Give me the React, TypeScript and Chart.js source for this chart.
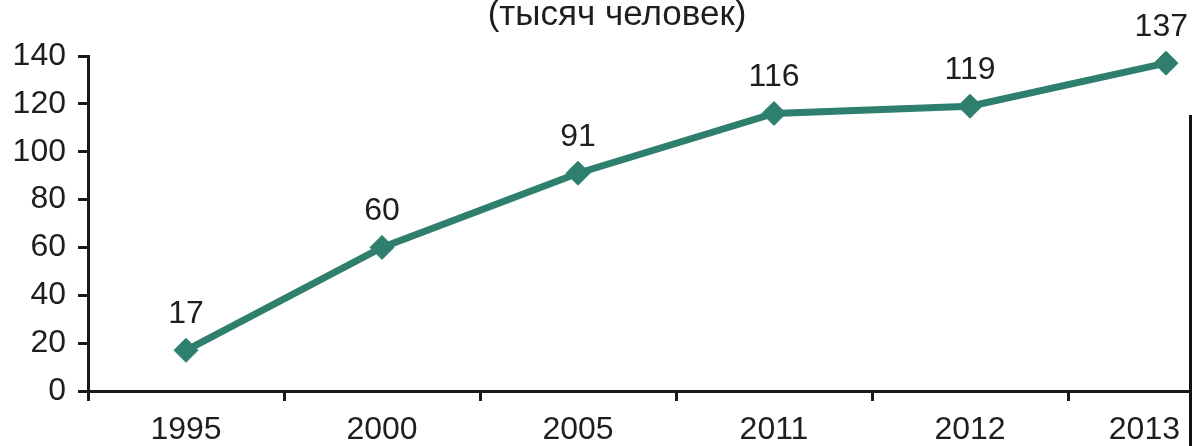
import React, { useEffect, useRef } from "react";
import { Chart, registerables } from "chart.js";

Chart.register(...registerables);

const titleText = "(тысяч человек)";
const categories = ["1995", "2000", "2005", "2011", "2012", "2013"];
const values = [17, 60, 91, 116, 119, 137];
const yTicks = [0, 20, 40, 60, 80, 100, 120, 140];

const LINE_COLOR = "#2e7f6e";
const TEXT_COLOR = "#1e1e1e";
const AXIS_COLOR = "#1a1a1a";
const FONT = "'Liberation Sans', Arial, sans-serif";
const VISIBLE_W = 1192;

const titlePlugin = {
  id: "topTitle",
  afterDraw(chart: any) {
    const ctx = chart.ctx;
    ctx.save();
    ctx.font = `35px ${FONT}`;
    ctx.fillStyle = TEXT_COLOR;
    ctx.textAlign = "center";
    ctx.textBaseline = "alphabetic";
    ctx.fillText(titleText, 617, 25);
    ctx.restore();
  },
};

const valueLabels = {
  id: "valueLabels",
  afterDatasetsDraw(chart: any) {
    const ctx = chart.ctx;
    const meta = chart.getDatasetMeta(0);
    ctx.save();
    ctx.font = `32px ${FONT}`;
    ctx.fillStyle = TEXT_COLOR;
    ctx.textAlign = "center";
    ctx.textBaseline = "alphabetic";
    meta.data.forEach((pt: any, i: number) => {
      const txt = String(chart.data.datasets[0].data[i]);
      const w = ctx.measureText(txt).width;
      let x = pt.x;
      if (x + w / 2 > VISIBLE_W - 4) x = VISIBLE_W - 4 - w / 2;
      ctx.fillText(txt, x, pt.y - 27);
    });
    ctx.restore();
  },
};

const clampLastLabel = {
  id: "clampLastLabel",
  beforeDraw(chart: any) {
    const sc = chart.scales.x;
    const items = sc.getLabelItems(chart.chartArea);
    const ctx = chart.ctx;
    ctx.save();
    ctx.font = `32px ${FONT}`;
    items.forEach((it: any) => {
      const w = ctx.measureText(String(it.label)).width;
      const x = it.options.translation[0];
      if (x + w / 2 > VISIBLE_W - 12) {
        it.options.translation[0] = VISIBLE_W - 12 - w / 2;
      }
    });
    ctx.restore();
  },
};

export default function App() {
  const ref = useRef<HTMLCanvasElement | null>(null);

  useEffect(() => {
    if (!ref.current) return;
    const chart = new Chart(ref.current, {
      type: "line",
      data: {
        labels: categories,
        datasets: [
          {
            data: values,
            borderColor: LINE_COLOR,
            backgroundColor: LINE_COLOR,
            borderWidth: 7,
            pointStyle: "rectRot",
            pointRadius: 12,
            pointBorderWidth: 1,
            pointBackgroundColor: LINE_COLOR,
            pointBorderColor: LINE_COLOR,
            tension: 0,
            clip: false as any,
          },
        ],
      },
      options: {
        animation: false,
        responsive: false,
        maintainAspectRatio: false,
        layout: { padding: { top: 56, right: 16, left: 0, bottom: 0 } },
        plugins: {
          legend: { display: false },
          title: { display: false },
          tooltip: { enabled: false },
        },
        scales: {
          x: {
            type: "category",
            offset: true,
            grid: {
              offset: true,
              drawOnChartArea: false,
              drawTicks: true,
              tickLength: 10,
              tickWidth: 3,
              tickColor: AXIS_COLOR,
              color: AXIS_COLOR,
            },
            border: { display: true, color: AXIS_COLOR, width: 3 },
            ticks: {
              color: TEXT_COLOR,
              font: { family: FONT, size: 32 },
              padding: 10,
              maxRotation: 0,
              autoSkip: false,
            },
            afterFit(scale: any) {
              scale.height = 55;
            },
          },
          y: {
            min: 0,
            max: 140,
            afterBuildTicks(scale: any) {
              scale.ticks = yTicks.map((v) => ({ value: v }));
            },
            grid: {
              drawOnChartArea: false,
              drawTicks: true,
              tickLength: 10,
              tickWidth: 3,
              tickColor: AXIS_COLOR,
              color: AXIS_COLOR,
            },
            border: { display: true, color: AXIS_COLOR, width: 3 },
            ticks: {
              color: TEXT_COLOR,
              font: { family: FONT, size: 32 },
              padding: 12,
            },
            afterFit(scale: any) {
              scale.width = 88;
            },
          },
        },
      },
      plugins: [titlePlugin, valueLabels, clampLastLabel],
    });
    return () => chart.destroy();
  }, []);

  return (
    <div
      style={{
        position: "absolute",
        left: 0,
        top: 0,
        width: VISIBLE_W,
        height: 446,
        overflow: "hidden",
        background: "#ffffff",
      }}
    >
      <canvas ref={ref} width={1280} height={446} style={{ display: "block" }} />
      <div
        style={{
          position: "absolute",
          left: 1189,
          top: 115,
          width: 3,
          height: 331,
          background: "#111111",
        }}
      />
    </div>
  );
}
